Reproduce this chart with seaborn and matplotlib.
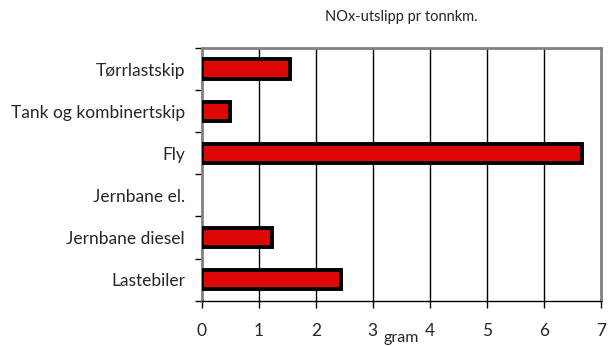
import matplotlib
matplotlib.use("Agg")
import matplotlib.pyplot as plt
import seaborn as sns
import pandas as pd
import numpy as np

categories = ["Tørrlastskip", "Tank og kombinertskip", "Fly", "Jernbane el.", "Jernbane diesel", "Lastebiler"]
values = [1.55, 0.49, 6.67, 0.0, 1.23, 2.45]
xticks = [0, 1, 2, 3, 4, 5, 6, 7]
title = "NOx-utslipp pr tonnkm."
xlabel = "gram"

sns.set_theme(style="white")
plt.rcParams['font.family'] = ['Lato', 'DejaVu Sans']

df = pd.DataFrame({"cat": categories, "val": values})

fig = plt.figure(figsize=(6.10, 3.46), dpi=100)
ax = fig.add_axes([0.3307, 0.131, 0.985 - 0.3307, 0.861 - 0.131])

sns.barplot(data=df, x="val", y="cat", order=categories, orient="h",
            color="#DD0806", saturation=1, edgecolor="black", linewidth=2.8,
            width=0.46, ax=ax, zorder=3)
for p, v in zip(ax.patches, values):
    if v == 0:
        p.set_linewidth(0)

ax.set_xlim(0, 7)
ax.set_ylim(len(categories) - 0.5, -0.5)
ax.set_xticks(xticks)
ax.set_xticklabels([str(t) for t in xticks], fontsize=12.5)
for x in xticks[1:-1]:
    ax.axvline(x, color="black", lw=1, zorder=1)

ax.set_yticks(range(len(categories)))
ax.set_yticklabels(categories, fontsize=12.5)
ax.tick_params(axis="y", which="major", length=0, pad=12)
ax.set_yticks(np.arange(-0.5, len(categories)), minor=True)
ax.tick_params(axis="y", which="minor", length=5, width=1, color="black", direction="out", left=True)
ax.tick_params(axis="x", which="major", length=5, width=1, color="black", direction="out", bottom=True, pad=11)

for s in ["left", "top", "right"]:
    ax.spines[s].set_color("#808080")
    ax.spines[s].set_linewidth(2)
    ax.spines[s].set_visible(True)
ax.spines["bottom"].set_color("black")
ax.spines["bottom"].set_linewidth(1)
ax.spines["bottom"].set_visible(True)

ax.set_ylabel("")
ax.set_xlabel(xlabel, fontsize=11.5, labelpad=-5.5)
fig.text(0.658, 0.952, title, ha="center", va="center", fontsize=10.5)

fig.savefig("out.png", dpi=100)
